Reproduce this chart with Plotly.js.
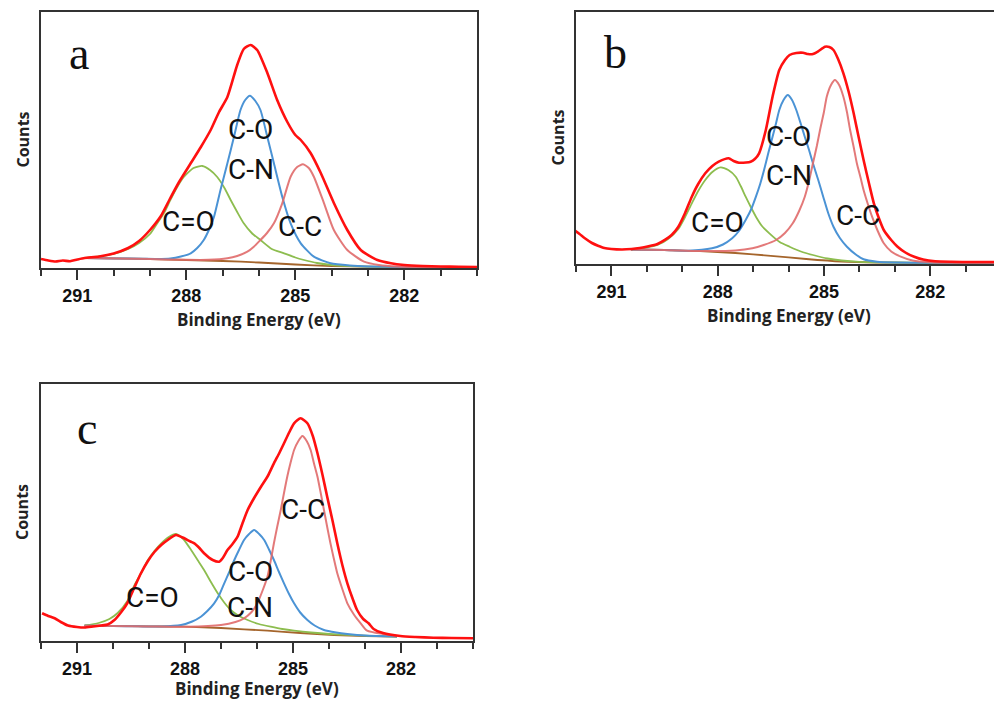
<!DOCTYPE html>
<html>
<head>
<meta charset="utf-8">
<script src="https://cdn.plot.ly/plotly-3.0.1.min.js"></script>
<style>
  html, body { margin: 0; padding: 0; overflow: hidden; background: #fff; }
  #chart { width: 1002px; height: 702px; }
</style>
</head>
<body>
<div id="chart"></div>
<script>
// ---------------- Panel a ----------------
const aEnvE = [292.0,291.8,291.6,291.4,291.2,291.0,290.8,290.4,290.0,289.6,289.3,289.0,288.7,288.44,288.2,287.88,287.6,287.33,287.1,286.87,286.6,286.42,286.23,286.05,285.77,285.5,285.22,285.0,284.85,284.58,284.3,283.94,283.57,283.2,282.74,282.37,282.0,281.5,281.0,280.5,280.0];
const aEnvY = [9,7.5,6.5,7.5,6.8,8.5,10,11.5,14.5,20,27,38,52,70,86,104.7,121,138,156,171,203,219,223,218,195,168,146,133,128,115,95,65,38,18,8,4.7,3,2,1.5,1.2,1];
const aBgE = [290.8,290.0,289.0,288.0,287.0,286.0,285.0,284.0,283.0,282.0,280.2];
const aBgY = [10,9.6,9,8,7,5.5,3.5,2,1.3,1,0.8];
const aCOE = [290.8,290.4,290.0,289.6,289.3,289.0,288.8,288.6,288.44,288.25,288.07,287.8,287.56,287.35,287.15,286.95,286.78,286.6,286.42,286.2,285.96,285.65,285.31,285.0,284.76,284.4,284.0,283.5,283.0,282.0,280.2];
const aCOY = [10,11.5,14,19,25,34,44.7,56,68,81,91,100,102,98,91,80,68,56,44.7,35,28,19,14.7,10.5,8,5,3,2,1.4,1,0.8];
const aCNE = [290.8,290.0,289.2,288.8,288.44,288.15,287.88,287.7,287.52,287.38,287.24,287.06,286.87,286.69,286.51,286.38,286.25,286.1,285.96,285.77,285.59,285.36,285.13,284.85,284.49,284.03,283.5,283.0,282.0,280.2];
const aCNY = [10,9.6,9.2,9,9.5,11.5,14.7,20,28,38,51,78,104.7,131,158,168,172.3,167,158,131,104.7,71.3,44.7,24.7,11.3,4.7,2.5,1.6,1.1,0.8];
const aCCE = [290.8,290.0,289.0,288.0,287.4,286.87,286.6,286.32,286.15,285.96,285.78,285.59,285.36,285.13,284.95,284.79,284.63,284.49,284.21,283.94,283.57,283.11,282.7,282.2,281.5,280.2];
const aCCY = [10,9.6,9,8.2,8.2,9.7,12,16.3,21,28,35,44.7,64.7,91.3,101,103.7,100,91.3,64.7,38,18,6.3,3,1.5,1,0.8];

// ---------------- Panel b ----------------
const bEnvE = [292.07,291.9,291.76,291.55,291.38,291.2,291.0,290.7,290.43,290.2,289.95,289.7,289.48,289.3,289.11,288.92,288.73,288.55,288.35,288.15,287.97,287.69,287.55,287.4,287.2,287.07,286.95,286.83,286.64,286.45,286.26,286.1,285.97,285.78,285.59,285.45,285.31,285.15,284.97,284.85,284.73,284.6,284.45,284.3,284.16,284.02,283.88,283.73,283.59,283.45,283.31,283.1,282.92,282.7,282.45,282.2,281.86,281.4,280.8,280.12];
const bEnvY = [34.3,30,26,21,18.3,16,15,14.5,15,16,17.7,20,24.3,29,37.3,51,67.3,80,90.7,98,102.3,105.7,103,101.3,101.5,102.3,105,110.7,134,167.3,194,204,209,211,211.3,210,210,213,217.3,217,214,205,190.7,172,150.7,127,104,81,60.7,46,34,24,17.3,11.5,7.3,4.5,2.7,2.2,2,2];
const bBgE = [290.45,289.5,288.5,287.5,286.5,285.5,284.5,283.5,282.5,280.1];
const bBgY = [14.5,14,12.8,11,8.2,5,2.5,1.5,1.2,1.2];
const bCOE = [290.45,290.0,289.7,289.4,289.11,288.92,288.73,288.55,288.35,288.15,287.92,287.7,287.49,287.35,287.21,287.05,286.92,286.75,286.54,286.25,285.97,285.65,285.31,284.9,284.5,284.0,283.0,282.0,280.1];
const bCOY = [14.5,16.5,19,25,35,47,60.7,73,84,92,96.7,94,87.3,78,67.3,56,47.3,38,30.7,22,17.3,12.5,9,5.5,3.5,2.2,1.5,1.2,1.2];
const bCNE = [290.45,289.5,288.83,288.16,287.85,287.59,287.4,287.21,287.05,286.92,286.8,286.69,286.57,286.45,286.35,286.26,286.14,286.02,285.9,285.78,285.66,285.54,285.42,285.31,285.16,285.02,284.88,284.73,284.55,284.35,284.1,283.88,283.5,283.0,282.0,280.1];
const bCNY = [14.5,14,13.3,15.7,19.5,25.7,33,44,55,67.3,80,94,111,127.3,141,154,164,169,164,154,141,127.3,114,100.7,84,67.3,51,37.3,26,17.3,9.5,4.7,2.3,1.5,1.2,1.2];
const bCCE = [290.45,289.5,288.5,287.5,287.02,286.7,286.35,286.1,285.88,285.7,285.54,285.42,285.31,285.2,285.11,285.0,284.92,284.8,284.69,284.57,284.45,284.35,284.26,284.16,284.07,283.97,283.88,283.76,283.64,283.48,283.31,283.1,282.83,282.5,282.0,281.0,280.1];
const bCCY = [14.5,14,13,13.5,15.7,19,24,31,40.7,53,67.3,83,100.7,118,134,152,167.3,179,184,179,167.3,152,134,117,100.7,87,74,60,47.3,33,20.7,12.5,7.3,3.5,1.8,1.3,1.2];

// ---------------- Panel c ----------------
const cEnvE = [291.97,291.8,291.62,291.45,291.25,291.0,290.79,290.55,290.33,290.15,289.96,289.77,289.6,289.4,289.22,289.03,288.85,288.66,288.48,288.25,288.02,287.85,287.74,287.6,287.47,287.23,287.05,286.95,286.82,286.68,286.54,286.4,286.26,286.08,285.89,285.7,285.53,285.38,285.25,285.1,284.97,284.79,284.6,284.45,284.32,284.18,284.05,283.9,283.77,283.63,283.49,283.35,283.22,283.05,282.9,282.76,282.5,282.02,281.6,281.1,280.6,280.0];
const cEnvY = [27.7,25,22.7,19,15.5,14,13.5,14.5,15.5,16.5,21,29,38,54,68,80,89,96,101,106,102.7,99.5,97.7,93,87.7,81,79.3,83,91,97,104.3,118,131,143,154.3,165,177.7,188,197.7,209,217.7,222.7,217.7,205,187.7,166,144.3,120,97.7,76,57.7,43,31,22,17.7,12,8,5,4,3.3,3,2.7];
const cBgE = [290.79,290.0,289.0,288.02,287.0,285.71,284.8,283.86,283.0,282.11];
const cBgY = [15.3,15,14.6,14.3,13,10.3,8,6,5,4.3];
const cCOE = [290.79,290.4,290.1,289.87,289.6,289.4,289.2,289.03,288.85,288.66,288.45,288.25,288.05,287.83,287.65,287.47,287.28,287.09,286.9,286.73,286.5,286.26,285.95,285.62,285.3,284.97,284.5,284.0,283.0,282.11];
const cCOY = [15.5,18,22,28,40,56,69,81,90,97.7,104,107,102,91,81,71,59,47.7,38,31,25,21,17,14.3,12,10.3,8.5,7,5.3,4.5];
const cCNE = [290.79,290.0,289.3,288.66,288.11,287.8,287.56,287.38,287.19,287.05,286.91,286.77,286.63,286.5,286.36,286.22,286.08,285.94,285.8,285.66,285.53,285.39,285.25,285.11,284.97,284.8,284.6,284.4,284.14,283.8,283.49,283.0,282.11];
const cCNY = [15.3,15,14.7,14.5,16,19.5,24.3,30,37.7,46,57.7,69,81,91,101,107,111,107,101,91,81,69,57.7,47,37.7,28.5,21,15.5,11,8.5,7,5.4,4.5];
const cCCE = [290.79,290.0,289.0,287.93,287.0,286.6,286.36,286.15,285.99,285.85,285.71,285.62,285.53,285.44,285.34,285.25,285.16,285.07,284.97,284.85,284.74,284.62,284.51,284.42,284.32,284.23,284.14,284.05,283.96,283.87,283.77,283.63,283.49,283.3,283.12,282.94,282.5,282.11];
const cCCY = [15.3,15,14.6,14.3,16,19,22.7,29,37.7,50,64.3,80,97.7,114,131,148,164.3,178,191,200,205,200,191,178,164.3,148,131,114,97.7,83,67.7,52,37.7,26,17.7,10.3,7,5];

// Tick labels / text
const tickVals = [291, 288, 285, 282];
const tickText = ['291', '288', '285', '282'];
const xTitle = 'Binding Energy (eV)';
const yTitle = 'Counts';
const panelLetters = ['a', 'b', 'c'];
const peakNames = ['C-O', 'C-N', 'C=O', 'C-C'];
// label anchor positions in data units [E, counts] for each panel
const aLabelE = [286.23, 286.23, 287.95, 284.88];
const aLabelY = [139, 99, 47, 42];
const bLabelE = [286.0, 286.0, 288.0, 284.04];
const bLabelY = [128, 89, 42, 49];
const cLabelE = [286.19, 286.19, 288.89, 284.72];
const cLabelY = [70, 33.5, 44, 132];

// ---------------- Styling ----------------
const W = 1002, H = 702;
const COL = {env: '#ff1010', co: '#8dbd4f', cn: '#4b93d5', cc: '#e06a6a', bg: '#a5652c'};
const AX = '#333333';

function line(x, y, xa, ya, color, width, opacity) {
  return {x: x, y: y, xaxis: xa, yaxis: ya, type: 'scatter', mode: 'lines',
    line: {color: color, width: width, shape: 'spline', smoothing: 0.6},
    opacity: opacity === undefined ? 1 : opacity, hoverinfo: 'skip'};
}

const traces = [];
function panel(sfx, env, bg, co, cn, cc) {
  const xa = 'x' + sfx, ya = 'y' + sfx;
  traces.push(line(bg[0], bg[1], xa, ya, COL.bg, 1.8));
  traces.push(line(co[0], co[1], xa, ya, COL.co, 1.8));
  traces.push(line(cn[0], cn[1], xa, ya, COL.cn, 2));
  traces.push(line(cc[0], cc[1], xa, ya, COL.cc, 2, 0.9));
  traces.push(line(env[0], env[1], xa, ya, COL.env, 2.6));
}
panel('', [aEnvE, aEnvY], [aBgE, aBgY], [aCOE, aCOY], [aCNE, aCNY], [aCCE, aCCY]);
panel('2', [bEnvE, bEnvY], [bBgE, bBgY], [bCOE, bCOY], [bCNE, bCNY], [bCCE, bCCY]);
panel('3', [cEnvE, cEnvY], [cBgE, cBgY], [cCOE, cCOY], [cCNE, cCNY], [cCCE, cCCY]);

function xax(l, r, anchor) {
  return {domain: [l / W, r / W], range: [292, 280], anchor: anchor,
    showline: true, linecolor: AX, linewidth: 2, mirror: true,
    showgrid: false, zeroline: false,
    ticks: 'outside', ticklen: 10, tickwidth: 2, tickcolor: AX,
    tickmode: 'array', tickvals: tickVals, ticktext: tickText,
    tickfont: {family: 'Liberation Sans, Arial, sans-serif', size: 18, color: '#111', weight: 'bold'},
    minor: {dtick: 1, tick0: 280, ticks: 'outside', ticklen: 6, tickwidth: 2, tickcolor: AX, showgrid: false},
    fixedrange: true};
}
function yax(top, bottom, anchor) {
  return {domain: [1 - bottom / H, 1 - top / H], range: [0, bottom - top], anchor: anchor,
    showline: true, linecolor: AX, linewidth: 2, mirror: true,
    showgrid: false, zeroline: false, ticks: '', showticklabels: false, fixedrange: true};
}

const ann = [];
function paperText(text, px, py, font, extra) {
  ann.push(Object.assign({text: text, xref: 'paper', yref: 'paper', x: px / W, y: 1 - py / H,
    xanchor: 'center', yanchor: 'middle', showarrow: false, font: font}, extra || {}));
}
const titleFont = {family: 'Open Sans, sans-serif', size: 17, color: '#222', weight: 'bold'};
const countsFont = {family: 'Open Sans, sans-serif', size: 16, color: '#222', weight: 'bold'};
const letterFont = {family: 'Liberation Serif, Times New Roman, serif', size: 46, color: '#111'};
const peakFont = {family: 'Roboto, Open Sans, sans-serif', size: 28, color: '#111'};

paperText(xTitle, 259, 319, titleFont);
paperText(xTitle, 788.7, 315, titleFont);
paperText(xTitle, 257, 688, titleFont);
paperText(yTitle, 22.5, 140, countsFont, {textangle: -90});
paperText(yTitle, 557.5, 138, countsFont, {textangle: -90});
paperText(yTitle, 22, 512, countsFont, {textangle: -90});
paperText(panelLetters[0], 79, 53.5, letterFont);
paperText(panelLetters[1], 615, 52, letterFont);
paperText(panelLetters[2], 87, 428.5, letterFont);

function peakLabels(sfx, Es, Ys) {
  for (let i = 0; i < peakNames.length; i++) {
    ann.push({text: peakNames[i], xref: 'x' + sfx, yref: 'y' + sfx, x: Es[i], y: Ys[i],
      xanchor: 'center', yanchor: 'middle', showarrow: false, font: peakFont});
  }
}
peakLabels('', aLabelE, aLabelY);
peakLabels('2', bLabelE, bLabelY);
peakLabels('3', cLabelE, cLabelY);

const layout = {
  width: W, height: H, margin: {l: 0, r: 0, t: 0, b: 0},
  paper_bgcolor: '#ffffff', plot_bgcolor: '#ffffff', showlegend: false,
  xaxis: xax(41, 477, 'y'), yaxis: yax(12, 268, 'x'),
  xaxis2: xax(576, 1001, 'y2'), yaxis2: yax(12, 264, 'x2'),
  xaxis3: xax(41, 473, 'y3'), yaxis3: yax(384, 641, 'x3'),
  annotations: ann
};

Plotly.newPlot('chart', traces, layout, {staticPlot: true, displayModeBar: false});
</script>
</body>
</html>
